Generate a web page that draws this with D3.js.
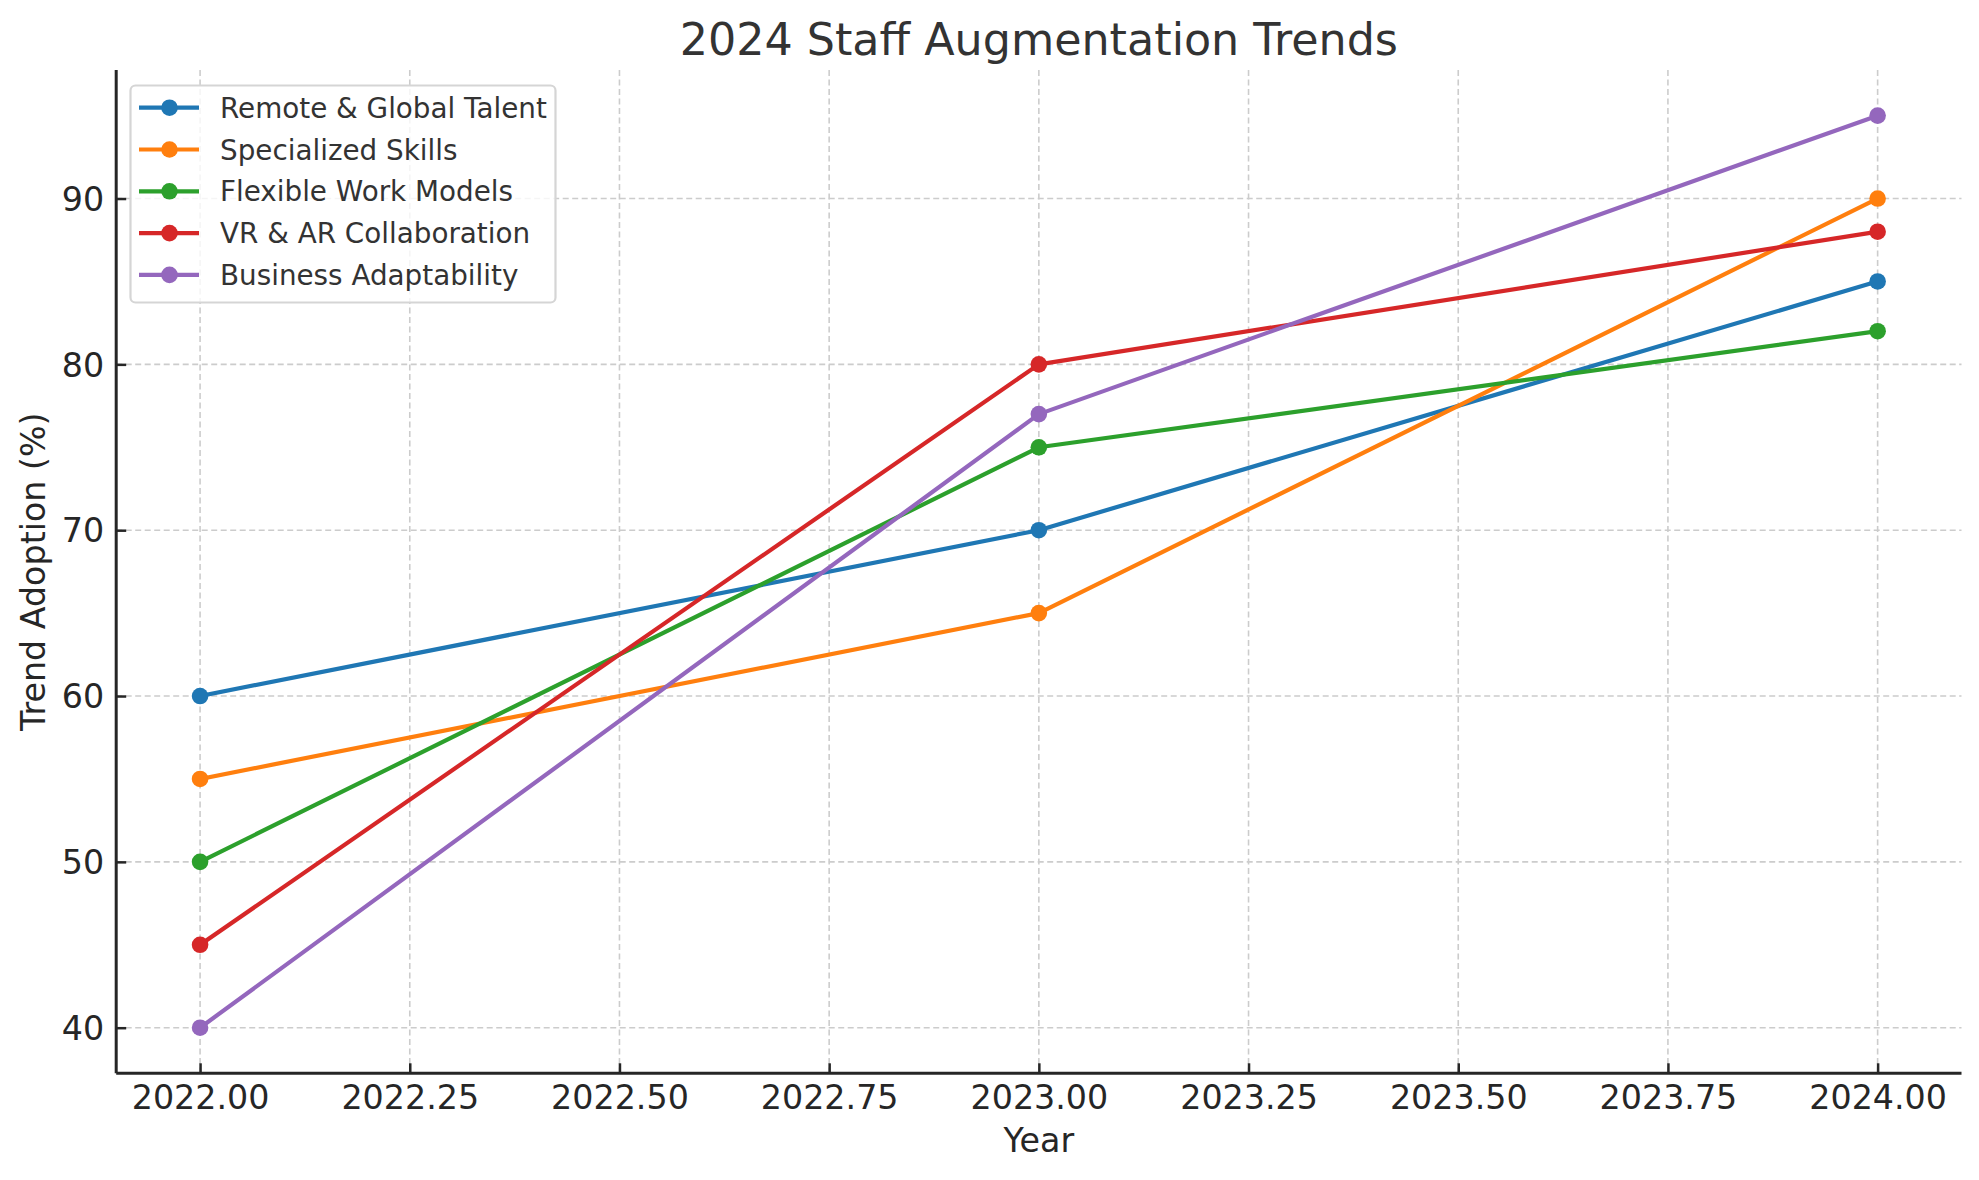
<!DOCTYPE html>
<html>
<head>
<meta charset="utf-8">
<script src="https://cdn.jsdelivr.net/npm/d3@7"></script>
<style>
  html, body { margin: 0; padding: 0; background: #fff; }
  svg { display: block; font-family: "DejaVu Sans", sans-serif; }
</style>
</head>
<body>
<svg id="chart" width="1979" height="1180"></svg>
<script>
const years = [2022, 2023, 2024];
const seriesNames = ["Remote & Global Talent", "Specialized Skills", "Flexible Work Models", "VR & AR Collaboration", "Business Adaptability"];
const remoteGlobal = [60, 70, 85];
const specializedSkills = [55, 65, 90];
const flexibleWork = [50, 75, 82];
const vrAr = [45, 80, 88];
const businessAdapt = [40, 77, 95];
const colors = ["#1f77b4", "#ff7f0e", "#2ca02c", "#d62728", "#9467bd"];
const xTicks = [2022.00, 2022.25, 2022.50, 2022.75, 2023.00, 2023.25, 2023.50, 2023.75, 2024.00];
const yTicks = [40, 50, 60, 70, 80, 90];

const seriesValues = [remoteGlobal, specializedSkills, flexibleWork, vrAr, businessAdapt];
const series = seriesNames.map((n, i) => ({ name: n, color: colors[i], values: years.map((y, j) => ({ x: y, y: seriesValues[i][j] })) }));

const svg = d3.select("#chart");
const L = 116.2, R = 1961.5, T = 70, B = 1073.3;

const x = d3.scaleLinear().domain([2021.9, 2024.1]).range([L, R]);
const y = d3.scaleLinear().domain([37.25, 97.75]).range([B, T]);

// grid
const g = svg.append("g");
g.selectAll(".gx").data(xTicks).enter().append("line")
  .attr("x1", d => x(d)).attr("x2", d => x(d)).attr("y1", T).attr("y2", B)
  .attr("stroke", "#cccccc").attr("stroke-width", 1.6).attr("stroke-dasharray", "6,3.5");
g.selectAll(".gy").data(yTicks).enter().append("line")
  .attr("x1", L).attr("x2", R).attr("y1", d => y(d)).attr("y2", d => y(d))
  .attr("stroke", "#cccccc").attr("stroke-width", 1.6).attr("stroke-dasharray", "6,3.5");

// axes
const xAxis = d3.axisBottom(x).tickValues(xTicks).tickFormat(d3.format(".2f")).tickSizeInner(-10).tickSizeOuter(0).tickPadding(14);
const yAxis = d3.axisLeft(y).tickValues(yTicks).tickFormat(d3.format("d")).tickSizeInner(-10).tickSizeOuter(0).tickPadding(14);

const gx = svg.append("g").attr("transform", `translate(0,${B})`).call(xAxis);
const gy = svg.append("g").attr("transform", `translate(${L},0)`).call(yAxis);
[gx, gy].forEach(a => {
  a.select(".domain").attr("stroke", "#262626").attr("stroke-width", 3);
  a.selectAll(".tick line").attr("stroke", "#262626").attr("stroke-width", 2.5);
  a.selectAll(".tick text").attr("fill", "#262626").attr("font-size", 33.3).attr("font-family", "DejaVu Sans");
});
gx.select(".domain").attr("d", `M${L},0H${R}`);
gy.select(".domain").attr("d", `M0,${B}V${T}`);
gx.selectAll(".tick text").attr("dy", "0.71em").attr("y", 12);
gy.selectAll(".tick text").attr("x", -12).attr("dy", "0.35em");

// lines
const line = d3.line().x(d => x(d.x)).y(d => y(d.y));
const sg = svg.append("g");
series.forEach(s => {
  sg.append("path").datum(s.values).attr("d", line)
    .attr("fill", "none").attr("stroke", s.color).attr("stroke-width", 4.2)
    .attr("stroke-linejoin", "round").attr("stroke-linecap", "square");
  sg.selectAll(null).data(s.values).enter().append("circle")
    .attr("cx", d => x(d.x)).attr("cy", d => y(d.y)).attr("r", 8.3).attr("fill", s.color);
});

// title and labels
svg.append("text").attr("x", (L + R) / 2).attr("y", 55).attr("text-anchor", "middle")
  .attr("font-size", 44.4).attr("fill", "#333333").text("2024 Staff Augmentation Trends");
svg.append("text").attr("x", (L + R) / 2).attr("y", 1152).attr("text-anchor", "middle")
  .attr("font-size", 33.3).attr("fill", "#262626").text("Year");
svg.append("text").attr("transform", `translate(45,${(T + B) / 2}) rotate(-90)`).attr("text-anchor", "middle")
  .attr("font-size", 33.3).attr("fill", "#262626").text("Trend Adoption (%)");

// legend
const lg = svg.append("g");
lg.append("rect").attr("x", 130.5).attr("y", 85.5).attr("width", 425).attr("height", 217).attr("rx", 5)
  .attr("fill", "rgba(255,255,255,0.8)").attr("stroke", "#d5d5d5").attr("stroke-width", 2.2);
series.forEach((s, i) => {
  const yy = 107.7 + i * 41.8;
  lg.append("line").attr("x1", 139).attr("x2", 199).attr("y1", yy).attr("y2", yy)
    .attr("stroke", s.color).attr("stroke-width", 4.2);
  lg.append("circle").attr("cx", 169.5).attr("cy", yy).attr("r", 8.3).attr("fill", s.color);
  lg.append("text").attr("x", 220).attr("y", yy).attr("dy", "0.36em")
    .attr("font-size", 27.8).attr("fill", "#333333").text(s.name);
});
</script>
</body>
</html>
